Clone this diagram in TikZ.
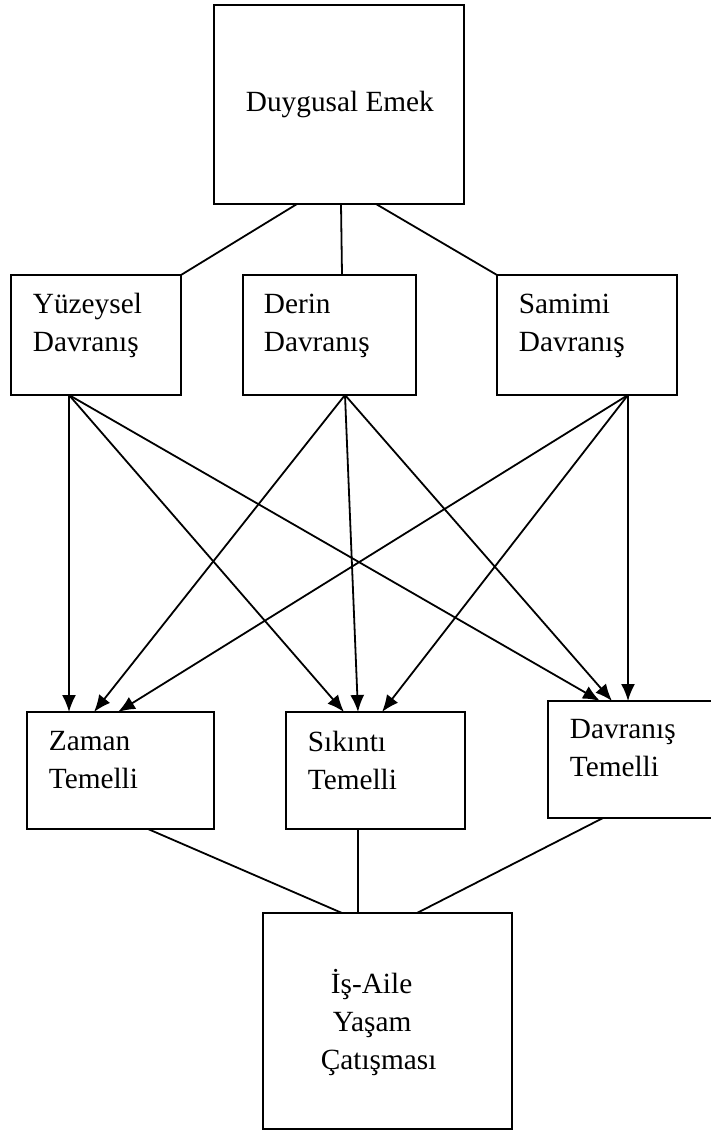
\documentclass[tikz,border=0pt]{standalone}
\usepackage{fontspec}
\setmainfont{Liberation Serif}
\usetikzlibrary{arrows.meta,calc}
\newcommand{\boxlines}[1]{\begin{tabular}[t]{@{}l@{}}#1\end{tabular}}
\tikzset{
  framebox/.style n args={2}{
    rectangle,
    draw,
    minimum width=#1,
    minimum height=#2,
    inner sep=0pt,
    outer sep=0pt,
  }
}
\tikzset{
  boxtext/.style={
    anchor=base west,
    inner sep=0pt,
    font=\fontsize{29.3pt}{38pt}\selectfont
  },
  intext/.style n args={3}{
    label={[boxtext, xshift=#1pt, yshift=-#2pt]north west:{\boxlines{#3}}}
  },
}
\def\rowh{120pt}
\def\lowh{117pt}

\begin{document}
\begin{tikzpicture}[x=1pt, y=-1pt, >={Latex[length=17pt,width=14pt]}, line width=1.8pt]
    \useasboundingbox (0,0) rectangle (711,1131);
    \clip (0,0) rectangle (711,1131);

    %% Top
    \node[framebox={250pt}{199pt}, intext={31}{107}{Duygusal Emek}] (emek) at (339,104.5) {};

    % Row 1
    \node[framebox={170pt}{\rowh}, intext={21}{38}{Yüzeysel\\Davranış}] (yuzey) at (96,335) {};
    \node[framebox={173pt}{\rowh}, intext={20}{38}{Derin\\Davranış}] (derin) at (329.5,335) {};
    \node[framebox={180pt}{\rowh}, intext={21}{38}{Samimi\\Davranış}] (samimi) at (587,335) {};

    % Row 2
    \node[framebox={187pt}{\lowh}, intext={21}{38}{Zaman\\Temelli}] (zaman) at (120.5,770.5) {};
    \node[framebox={179pt}{\lowh}, intext={21}{39}{Sıkıntı\\Temelli}] (sikinti) at (375.5,770.5) {};
    \node[framebox={187pt}{\lowh}, intext={21}{37}{Davranış\\Temelli}] (davranis) at (641.5,759.5) {};

    %% Bottom
    \node[framebox={249pt}{216pt}, intext={57}{80}{\hspace{10pt}İş-Aile\\\hspace{12pt}Yaşam\\Çatışması}] (isaile) at (387.5,1021) {};

    %% Edges

    % Top to row 1
    \draw ($(emek.south)+(-42,0)$) -- (yuzey.north east);
    \draw ($(emek.south)+(2,0)$) -- ($(derin.north)+(12.5,0)$);
    \draw ($(emek.south)+(37,0)$) -- (samimi.north west);

    % Row 1 to row 2
    \draw[->] ($(yuzey.south)+(-27,0)$) -- ($(zaman.north)+(-51.5,0)$);
    \draw[->] ($(yuzey.south)+(-27,0)$) -- ($(sikinti.north)+(-31.5,0)$);
    \draw[->] ($(yuzey.south)+(-27,0)$) -- ($(davranis.north)+(-41.5,0)$);
    \draw[->] ($(derin.south)+(15.5,0)$) -- ($(zaman.north)+(-26.5,0)$);
    \draw[->] ($(derin.south)+(15.5,0)$) -- ($(sikinti.north)+(-17.5,0)$);
    \draw[->] ($(derin.south)+(15.5,0)$) -- ($(davranis.north)+(-29.5,0)$);
    \draw[->] ($(samimi.south)+(41,0)$) -- ($(zaman.north)+(-2.5,0)$);
    \draw[->] ($(samimi.south)+(41,0)$) -- ($(sikinti.north)+(6.5,0)$);
    \draw[->] ($(samimi.south)+(41,0)$) -- ($(davranis.north)+(-13.5,0)$);

    % Row 2 to bottom
    \draw ($(zaman.south)+(27.5,0)$) -- ($(isaile.north)+(-45.5,0)$);
    \draw ($(sikinti.south)+(-17.5,0)$) -- ($(isaile.north)+(-29.5,0)$);
    \draw ($(davranis.south)+(-38.5,0)$) -- ($(isaile.north)+(29.5,0)$);

\end{tikzpicture}
\end{document}
